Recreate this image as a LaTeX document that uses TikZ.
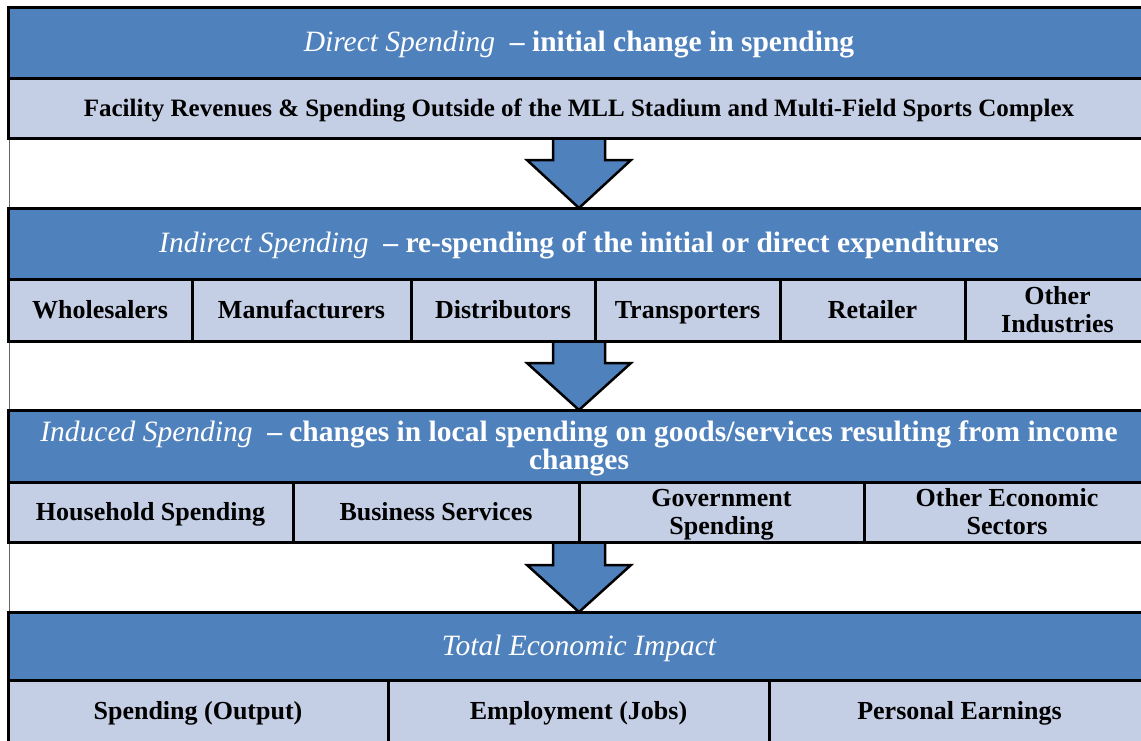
\documentclass[tikz,border=0pt]{standalone}
\usepackage{fontspec}
\setmainfont{Liberation Serif}
\definecolor{hdrblue}{HTML}{4F81BD}
\definecolor{celllight}{HTML}{C4CEE5}
\newcommand{\ctop}{\rule{0pt}{22pt}}
\newcommand{\cbot}{\rule[-6pt]{0pt}{0pt}}
\newcommand{\htop}{\rule{0pt}{25pt}}
\newcommand{\hbot}{\rule[-5.5pt]{0pt}{0pt}}
\begin{document}
\begin{tikzpicture}[x=1pt,y=-1pt,
  hdr/.style={draw=black, line width=3pt, fill=hdrblue, text=white, font=\fontsize{29.5}{28}\selectfont\bfseries, inner sep=0pt, align=center},
  cell/.style={draw=black, line width=3pt, fill=celllight, text=black, font=\fontsize{26}{28}\selectfont\bfseries, inner sep=0pt, align=center},
  bigarrow/.style={draw=black, line width=2.5pt, fill=hdrblue, line join=miter},
  edge/.style={draw=black!60, line width=0.8pt}]
\useasboundingbox (0,0) rectangle (1141,740);
\begin{scope}
\clip (0,0) rectangle (1141,740);
% left thin edge line
\coordinate (ltop) at (9,7);
\coordinate (lbot) at (9,745);
\draw[edge] (ltop) -- (lbot);
% arrows
\foreach \t/\s/\b [count=\i] in {138/160/208, 341/363/410, 542/565/612}{
  \coordinate (a\i top) at (579,\t);
  \coordinate (a\i tip) at (579,\b);
  \draw[bigarrow] (553,\t) -- (553,\s) -- (527,\s) -- (a\i tip) -- (631,\s) -- (605,\s) -- (605,\t);
}
% Box 1
\node[hdr, minimum width=1142pt, minimum height=71pt] (h1) at (579,42.5) {\htop\mdseries\itshape Direct Spending\ \ \bfseries\upshape -- initial change in spending\hbot};
\node[cell, minimum width=1142pt, minimum height=60pt, font=\fontsize{25}{28}\selectfont\bfseries] (s1) at (579,108) {\ctop Facility Revenues \& Spending Outside of the MLL Stadium and Multi-Field Sports Complex\cbot};
% Box 2
\node[hdr, minimum width=1142pt, minimum height=71pt] (h2) at (579,243.5) {\htop\mdseries\itshape Indirect Spending\ \ \bfseries\upshape -- re-spending of the initial or direct expenditures\hbot};
\foreach \n/\xa/\xb/\txt in {c21/8/192/Wholesalers, c22/192/411/Manufacturers, c23/411/595/Distributors, c24/595/780/Transporters, c25/780/965/Retailer, c26/965/1150/{Other\\Industries}}{
  \node[cell, minimum width={(\xb-\xa)*1pt}, minimum height=62pt] (\n) at ({(\xa+\xb)/2},310) {\ctop\txt\cbot};
}
% Box 3
\node[hdr, minimum width=1142pt, minimum height=72pt] (h3) at (579,446) {\htop\mdseries\itshape Induced Spending\ \ \bfseries\upshape -- changes in local spending on goods/services resulting from income\\changes\hbot};
\foreach \n/\xa/\xb/\txt in {c31/8/293/Household Spending, c32/293/579/Business Services, c33/579/864/{Government\\Spending}, c34/864/1150/{Other Economic\\Sectors}}{
  \node[cell, minimum width={(\xb-\xa)*1pt}, minimum height=60pt] (\n) at ({(\xa+\xb)/2},512) {\ctop\txt\cbot};
}
% Box 4
\node[hdr, minimum width=1142pt, minimum height=68pt] (h4) at (579,646) {\htop\mdseries\itshape Total Economic Impact\hbot};
\foreach \n/\xa/\xb/\txt in {c41/8/388/Spending (Output), c42/388/769/Employment (Jobs), c43/769/1150/Personal Earnings}{
  \node[cell, minimum width={(\xb-\xa)*1pt}, minimum height=62pt] (\n) at ({(\xa+\xb)/2},711) {\ctop\txt\cbot};
}
\end{scope}
\end{tikzpicture}
\end{document}
